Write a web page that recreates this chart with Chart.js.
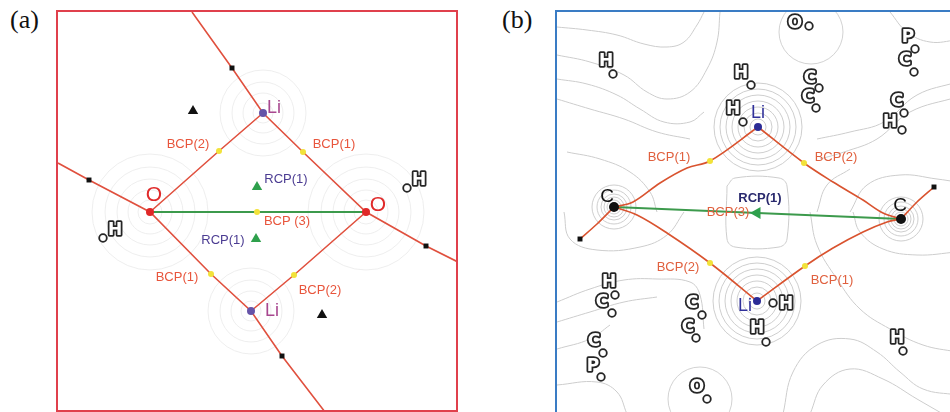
<!DOCTYPE html>
<html>
<head>
<meta charset="utf-8">
<script src="https://cdn.jsdelivr.net/npm/chart.js@4.4.1/dist/chart.umd.min.js"></script>
<style>
body { margin: 0; background: #fff; width: 950px; height: 412px; overflow: hidden; position: relative; }
.Panel_Tag { position: absolute; top: 5px; font-family: "Liberation Serif", "DejaVu Serif", serif; font-size: 26px; color: #111; }
.Frame { position: absolute; }
#Frame_A { left: 56px; top: 10px; width: 398px; height: 398px; border: 2px solid #e0404c; }
#Frame_B { left: 555px; top: 10px; width: 400px; height: 402px; border: 2px solid #3a7cc4; }
canvas { display: block; }
</style>
</head>
<body>
<div class="Panel_Tag" style="left:10px">(a)</div>
<div class="Panel_Tag" style="left:502px">(b)</div>
<div class="Frame" id="Frame_A"><canvas id="Chart_A" width="398" height="398"></canvas></div>
<div class="Frame" id="Frame_B"><canvas id="Chart_B" width="400" height="402"></canvas></div>
<script>
// ---- panel (a): map coordinates, y grows downward ----
const A_Li_X = [205, 193];
const A_Li_Y = [101, 299];
const A_O_X = [92, 308];
const A_O_Y = [200, 200];
const A_Bcp_X = [161, 245, 199, 153, 236];
const A_Bcp_Y = [139, 140, 200, 262, 263];
const A_Rcp_X = [199, 198];
const A_Rcp_Y = [175, 227];
const A_Ccp_X = [135, 264];
const A_Ccp_Y = [99, 303];
const A_Square_X = [174, 31, 368, 224];
const A_Square_Y = [56, 168, 234, 344];
const A_Path1_X = [134, 174, 205, 245, 308, 368, 400];
const A_Path1_Y = [0, 56, 101, 140, 200, 234, 250];
const A_Path2_X = [0, 31, 92, 153, 193, 224, 267];
const A_Path2_Y = [151, 168, 200, 262, 299, 344, 400];
const A_Path3_X = [205, 161, 92];
const A_Path3_Y = [101, 139, 200];
const A_Path4_X = [193, 236, 308];
const A_Path4_Y = [299, 263, 200];
const A_Green_X = [92, 308];
const A_Green_Y = [200, 200];

const A_Li_Text = ["Li", "Li"];
const A_Li_Text_X = [209, 207];
const A_Li_Text_Y = [96, 299];
const A_O_Text = ["O", "O"];
const A_O_Text_X = [96, 320];
const A_O_Text_Y = [183, 193];
const A_Bcp_Text = ["BCP(2)", "BCP(1)", "BCP (3)", "BCP(1)", "BCP(2)"];
const A_Bcp_Text_X = [130, 276, 229, 119, 262];
const A_Bcp_Text_Y = [132, 132, 209, 265, 278];
const A_Rcp_Text = ["RCP(1)", "RCP(1)"];
const A_Rcp_Text_X = [228, 165];
const A_Rcp_Text_Y = [167, 228];
const A_Atom_Text = ["H", "H"];
const A_Atom_X = [361, 57];
const A_Atom_Y = [169, 219];
const A_Atom_Dot_X = [349, 45];
const A_Atom_Dot_Y = [176, 226];

// ---- panel (b) ----
const B_Li_X = [201, 200];
const B_Li_Y = [115, 289];
const B_C_X = [57, 344];
const B_C_Y = [195, 207];
const B_Bcp_X = [153, 247, 153, 248];
const B_Bcp_Y = [149, 151, 251, 254];
const B_Square_X = [23, 377];
const B_Square_Y = [227, 175];
const B_Arrow_X = [200];
const B_Arrow_Y = [201];
const B_Curve1_X = [57, 76, 103, 130, 153, 201];
const B_Curve1_Y = [195, 190, 171, 156, 149, 115];
const B_Curve2_X = [57, 80, 110, 153, 200];
const B_Curve2_Y = [195, 203, 221, 251, 289];
const B_Curve3_X = [201, 247, 276, 306, 326, 344];
const B_Curve3_Y = [115, 151, 170, 188, 201, 207];
const B_Curve4_X = [200, 248, 276, 306, 330, 344];
const B_Curve4_Y = [289, 254, 236, 220, 210, 207];
const B_Tail1_X = [23, 40, 57];
const B_Tail1_Y = [227, 212, 195];
const B_Tail2_X = [344, 360, 377];
const B_Tail2_Y = [207, 190, 175];
const B_Green_X = [344, 57];
const B_Green_Y = [207, 195];

const B_Contour_X = [
    [0, 30, 60, 87, 110, 127, 140, 147],
    [0, 33, 67, 90, 110, 133, 150, 160, 163],
    [0, 30, 60, 83, 107, 133, 147],
    [0, 33, 67, 100, 133],
    [10, 43, 73, 93, 100],
    [333, 350, 373, 400],
    [400, 360, 327, 293, 260],
    [400, 353, 320, 287, 263],
    [260, 270, 293],
    [293, 310, 343, 380, 400],
    [7, 13, 40, 83, 110, 127],
    [0, 33, 67, 100, 133, 143, 147],
    [0, 33, 67, 100],
    [0, 33, 53],
    [0, 40, 60, 70],
    [253, 260, 280, 303, 333, 366, 400],
    [296, 303, 326, 360, 400],
    [226, 236, 260, 293, 320, 343, 366, 400],
    [253, 266, 293, 326, 360, 386],
    [170, 170, 178, 222, 230, 230, 222, 178, 170]
];
const B_Contour_Y = [
    [15, 18, 23, 32, 35, 30, 13, 0],
    [43, 50, 63, 80, 87, 80, 57, 30, 0],
    [67, 72, 83, 97, 110, 110, 100],
    [87, 97, 107, 120, 127],
    [140, 147, 160, 180, 200],
    [0, 20, 30, 28],
    [70, 83, 110, 120, 127],
    [85, 100, 127, 140, 147],
    [200, 173, 157],
    [200, 173, 163, 167, 170],
    [200, 227, 238, 235, 223, 200],
    [290, 277, 268, 267, 270, 283, 317],
    [310, 300, 290, 285],
    [337, 327, 313],
    [373, 370, 380, 402],
    [200, 233, 267, 297, 317, 333, 340],
    [200, 220, 237, 243, 240],
    [402, 360, 333, 327, 340, 360, 377, 383],
    [402, 373, 357, 367, 387, 402],
    [174, 227, 235, 235, 227, 174, 166, 166, 174]
];
const B_Oxygen_X = [254, 143];
const B_Oxygen_Y = [20, 387];

const B_C_Text = ["C", "C"];
const B_C_Text_X = [50, 343];
const B_C_Text_Y = [185, 194];
const B_Li_Text = ["Li", "Li"];
const B_Li_Text_X = [201, 188];
const B_Li_Text_Y = [101, 294];
const B_Rcp_Text = ["RCP(1)"];
const B_Rcp_Text_X = [203];
const B_Rcp_Text_Y = [186];
const B_Bcp_Text = ["BCP(3)", "BCP(1)", "BCP(2)", "BCP(2)", "BCP(1)"];
const B_Bcp_Text_X = [171, 112, 279, 121, 275];
const B_Bcp_Text_Y = [200, 145, 145, 255, 268];
const B_Atom_Text = ["H", "H", "O", "C", "C", "P", "C", "C", "H", "H", "H", "C", "C", "C", "H", "H", "C", "P", "O", "H"];
const B_Atom_X = [49, 184, 238, 253, 251, 351, 348, 340, 333, 176, 52, 45, 135, 131, 229, 200, 37, 36, 140, 340];
const B_Atom_Y = [50, 62, 12, 67, 86, 26, 49, 90, 111, 98, 271, 291, 292, 316, 293, 317, 330, 355, 376, 327];
const B_Atom_Dot_X = [56, 194, 252, 262, 259, 358, 357, 347, 345, 186, 58, 55, 145, 139, 216, 209, 46, 44, 150, 346];
const B_Atom_Dot_Y = [62, 73, 14, 76, 96, 37, 60, 101, 118, 110, 283, 301, 303, 326, 291, 330, 341, 365, 387, 339];

function Pts(Xs, Ys) {
    return Xs.map(function (X, i) { return { x: X, y: Ys[i] }; });
}

function Line_Set(Xs, Ys, Color, Width, Tension, Order) {
    return {
        data: Pts(Xs, Ys), showLine: true, borderColor: Color, borderWidth: Width,
        pointRadius: 0, tension: Tension || 0, order: Order || 5
    };
}

function Mark_Set(Xs, Ys, Style, Color, Radius, Rotation) {
    return {
        data: Pts(Xs, Ys), showLine: false, pointStyle: Style, pointRadius: Radius,
        backgroundColor: Color, borderColor: Color, borderWidth: 0, rotation: Rotation || 0, order: 1
    };
}

function Ring_Set(Xs, Ys, Radii, Color) {
    const Data = [];
    const Rads = [];
    Xs.forEach(function (X, i) {
        Radii.forEach(function (R) { Data.push({ x: X, y: Ys[i] }); Rads.push(R); });
    });
    return {
        data: Data, showLine: false, pointStyle: "circle", pointRadius: Rads,
        backgroundColor: "rgba(0,0,0,0)", borderColor: Color, borderWidth: 0.9, order: 10
    };
}

function Make_Label_Plugin(Text_Sets, Atom_Set) {
    return {
        id: "map_labels",
        afterDatasetsDraw: function (Chart_Obj) {
            const Ctx = Chart_Obj.ctx;
            const Sx = Chart_Obj.scales.x, Sy = Chart_Obj.scales.y;
            Ctx.save();
            Ctx.textBaseline = "middle";
            Text_Sets.forEach(function (Set) {
                Ctx.font = Set.Font;
                Ctx.fillStyle = Set.Color;
                Ctx.textAlign = Set.Align || "center";
                Set.Texts.forEach(function (T, i) {
                    Ctx.fillText(T, Sx.getPixelForValue(Set.Xs[i]), Sy.getPixelForValue(Set.Ys[i]));
                });
            });
            if (Atom_Set) {
                Ctx.font = "bold 17px 'DejaVu Sans', sans-serif";
                Ctx.textAlign = "center";
                Ctx.lineJoin = "round";
                Atom_Set.Texts.forEach(function (T, i) {
                    const Px = Sx.getPixelForValue(Atom_Set.Xs[i]);
                    const Py = Sy.getPixelForValue(Atom_Set.Ys[i]);
                    Ctx.lineWidth = 3.6;
                    Ctx.strokeStyle = "#262626";
                    Ctx.strokeText(T, Px, Py);
                    Ctx.fillStyle = "#ffffff";
                    Ctx.fillText(T, Px, Py);
                    const Dx = Sx.getPixelForValue(Atom_Set.Dot_Xs[i]);
                    const Dy = Sy.getPixelForValue(Atom_Set.Dot_Ys[i]);
                    Ctx.beginPath();
                    Ctx.arc(Dx, Dy, 3.8, 0, Math.PI * 2);
                    Ctx.fillStyle = "#ffffff";
                    Ctx.fill();
                    Ctx.lineWidth = 1.8;
                    Ctx.stroke();
                });
            }
            Ctx.restore();
        }
    };
}

function Map_Options(Max_X, Max_Y) {
    return {
        responsive: false,
        animation: false,
        events: [],
        layout: { padding: 0, autoPadding: false },
        scales: {
            x: { type: "linear", min: 0, max: Max_X, display: false },
            y: { type: "linear", min: 0, max: Max_Y, reverse: true, display: false }
        },
        plugins: { legend: { display: false }, tooltip: { enabled: false } }
    };
}

const Red_A = "#e0503e";
const Red_B = "#d9532f";
const Green = "#3c9a4c";
const Contour_Grey = "#cdcdcd";

const B_Contour_Sets = B_Contour_X.map(function (Xs, i) {
    return Line_Set(Xs, B_Contour_Y[i], Contour_Grey, 1, 0.4, 12);
});

new Chart(document.getElementById("Chart_A"), {
    type: "scatter",
    data: {
        datasets: [
            Ring_Set(A_O_X, A_O_Y, [12, 22, 33, 45, 58], "#ececec"),
            Ring_Set(A_Li_X, A_Li_Y, [10, 20, 31, 43], "#ececec"),
            Line_Set(A_Path1_X, A_Path1_Y, Red_A, 1.6),
            Line_Set(A_Path2_X, A_Path2_Y, Red_A, 1.6),
            Line_Set(A_Path3_X, A_Path3_Y, Red_A, 1.6),
            Line_Set(A_Path4_X, A_Path4_Y, Red_A, 1.6),
            Line_Set(A_Green_X, A_Green_Y, Green, 2),
            Mark_Set(A_Square_X, A_Square_Y, "rect", "#111111", 3.5),
            Mark_Set(A_Ccp_X, A_Ccp_Y, "triangle", "#111111", 6),
            Mark_Set(A_Rcp_X, A_Rcp_Y, "triangle", "#2ea04c", 6),
            Mark_Set(A_Bcp_X, A_Bcp_Y, "circle", "#f2e23a", 3),
            Mark_Set(A_O_X, A_O_Y, "circle", "#e02828", 4),
            Mark_Set(A_Li_X, A_Li_Y, "circle", "#6654a8", 4)
        ]
    },
    options: Map_Options(398, 398),
    plugins: [Make_Label_Plugin([
        { Texts: A_Li_Text, Xs: A_Li_Text_X, Ys: A_Li_Text_Y, Font: "18px 'Liberation Sans', Arial, sans-serif", Color: "#a8478f", Align: "left" },
        { Texts: A_O_Text, Xs: A_O_Text_X, Ys: A_O_Text_Y, Font: "21px 'Liberation Sans', Arial, sans-serif", Color: "#e02a2a" },
        { Texts: A_Bcp_Text, Xs: A_Bcp_Text_X, Ys: A_Bcp_Text_Y, Font: "13px 'Liberation Sans', Arial, sans-serif", Color: "#e8553c" },
        { Texts: A_Rcp_Text, Xs: A_Rcp_Text_X, Ys: A_Rcp_Text_Y, Font: "13px 'Liberation Sans', Arial, sans-serif", Color: "#4b3c92" }
    ], { Texts: A_Atom_Text, Xs: A_Atom_X, Ys: A_Atom_Y, Dot_Xs: A_Atom_Dot_X, Dot_Ys: A_Atom_Dot_Y })]
});

new Chart(document.getElementById("Chart_B"), {
    type: "scatter",
    data: {
        datasets: B_Contour_Sets.concat([
            Ring_Set(B_Oxygen_X, B_Oxygen_Y, [32], Contour_Grey),
            Ring_Set(B_Li_X, B_Li_Y, [8, 14, 20, 26, 32, 38, 44], "#c8c8c8"),
            Ring_Set(B_C_X, B_C_Y, [4, 7, 10, 13, 17, 22], "#c8c8c8"),
            Line_Set(B_Curve1_X, B_Curve1_Y, Red_B, 1.6, 0.35),
            Line_Set(B_Curve2_X, B_Curve2_Y, Red_B, 1.6, 0.35),
            Line_Set(B_Curve3_X, B_Curve3_Y, Red_B, 1.6, 0.35),
            Line_Set(B_Curve4_X, B_Curve4_Y, Red_B, 1.6, 0.35),
            Line_Set(B_Tail1_X, B_Tail1_Y, Red_B, 1.6, 0.3),
            Line_Set(B_Tail2_X, B_Tail2_Y, Red_B, 1.6, 0.3),
            Line_Set(B_Green_X, B_Green_Y, Green, 2),
            Mark_Set(B_Square_X, B_Square_Y, "rect", "#111111", 3.5),
            Mark_Set(B_Arrow_X, B_Arrow_Y, "triangle", "#2ea04c", 7, -90),
            Mark_Set(B_Bcp_X, B_Bcp_Y, "circle", "#f2e23a", 3),
            Mark_Set(B_C_X, B_C_Y, "circle", "#111111", 5),
            Mark_Set(B_Li_X, B_Li_Y, "circle", "#2c2c96", 4)
        ])
    },
    options: Map_Options(400, 402),
    plugins: [Make_Label_Plugin([
        { Texts: B_C_Text, Xs: B_C_Text_X, Ys: B_C_Text_Y, Font: "19px 'Liberation Sans', Arial, sans-serif", Color: "#111111" },
        { Texts: B_Li_Text, Xs: B_Li_Text_X, Ys: B_Li_Text_Y, Font: "18px 'Liberation Sans', Arial, sans-serif", Color: "#30309a" },
        { Texts: B_Rcp_Text, Xs: B_Rcp_Text_X, Ys: B_Rcp_Text_Y, Font: "bold 13px 'Liberation Sans', Arial, sans-serif", Color: "#2a2a6e" },
        { Texts: B_Bcp_Text, Xs: B_Bcp_Text_X, Ys: B_Bcp_Text_Y, Font: "13px 'Liberation Sans', Arial, sans-serif", Color: "#e0603e" }
    ], { Texts: B_Atom_Text, Xs: B_Atom_X, Ys: B_Atom_Y, Dot_Xs: B_Atom_Dot_X, Dot_Ys: B_Atom_Dot_Y })]
});
</script>
</body>
</html>
